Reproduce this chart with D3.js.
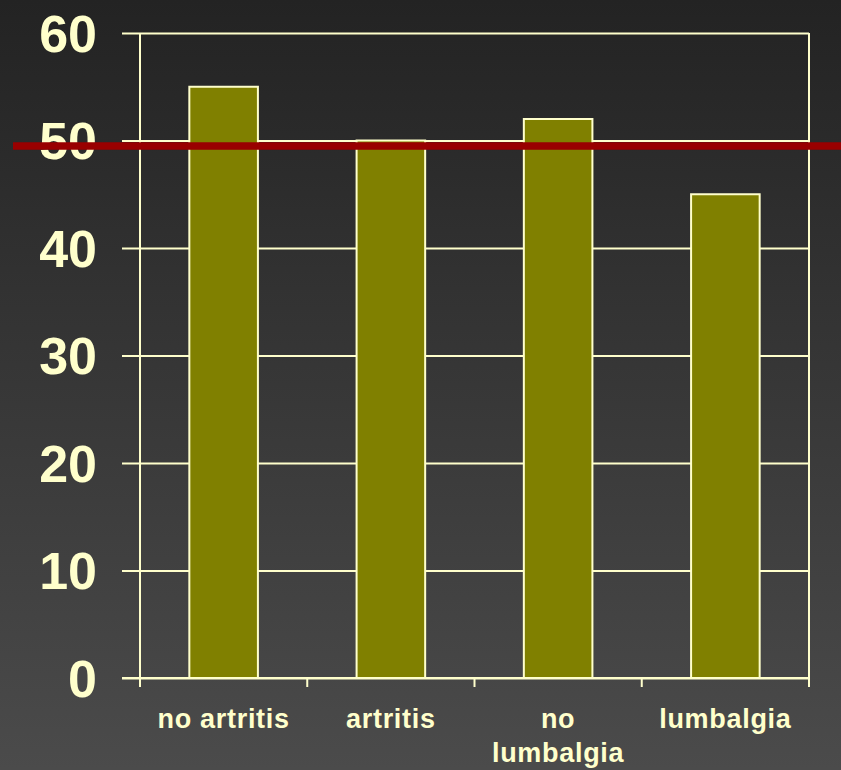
<!DOCTYPE html>
<html>
<head>
<meta charset="utf-8">
<script src="https://cdn.jsdelivr.net/npm/d3@7/dist/d3.min.js"></script>
<style>
  html, body { margin: 0; padding: 0; background: #2a2a2a; }
  svg { display: block; }
</style>
</head>
<body>
<svg id="chart" width="841" height="770"></svg>
<script>
// Share of patients per group (%)
const categories = ["no artritis", "artritis", "no lumbalgia", "lumbalgia"];
const values = [55, 50, 52, 45];
const yTicks = [0, 10, 20, 30, 40, 50, 60];
const referenceValue = 49.5;

const W = 841, H = 770;
const margin = { left: 140, right: 32, top: 33, bottom: 92 };
const ink = "#ffffcc";

const svg = d3.select("#chart");

// Background: vertical dark-to-grey gradient
const defs = svg.append("defs");
const grad = defs.append("linearGradient")
  .attr("id", "bg").attr("x1", 0).attr("y1", 0).attr("x2", 0).attr("y2", 1);
grad.append("stop").attr("offset", "0%").attr("stop-color", "#232323");
grad.append("stop").attr("offset", "100%").attr("stop-color", "#4b4b4b");
svg.append("rect").attr("width", W).attr("height", H).attr("fill", "url(#bg)");

const x = d3.scaleBand()
  .domain(categories)
  .range([margin.left, W - margin.right])
  .paddingInner(0.59)
  .paddingOuter(0.295);

const y = d3.scaleLinear()
  .domain([0, 60])
  .range([H - margin.bottom, margin.top]);

// Horizontal gridlines with left tick marks
const yAxis = d3.axisLeft(y)
  .tickValues(yTicks)
  .tickSize(-(W - margin.right - margin.left))
  .tickPadding(43)
  .tickFormat(d3.format("d"));

const gy = svg.append("g")
  .attr("transform", `translate(${margin.left},0)`)
  .call(yAxis);
gy.select(".domain").remove();
gy.selectAll(".tick line")
  .attr("x1", -18)
  .attr("stroke", ink)
  .attr("stroke-width", 2);
gy.selectAll(".tick text")
  .attr("fill", ink)
  .attr("font-family", "'Liberation Sans', Arial, sans-serif")
  .attr("font-weight", "bold")
  .attr("font-size", 52)
  .attr("dy", "0.35em");

// Plot frame: left and right verticals
svg.append("line")
  .attr("x1", margin.left).attr("x2", margin.left)
  .attr("y1", y(60)).attr("y2", y(0))
  .attr("stroke", ink).attr("stroke-width", 2);
svg.append("line")
  .attr("x1", W - margin.right).attr("x2", W - margin.right)
  .attr("y1", y(60)).attr("y2", y(0))
  .attr("stroke", ink).attr("stroke-width", 2);

// Bars
svg.append("g").selectAll("rect")
  .data(values)
  .join("rect")
  .attr("x", (d, i) => x(categories[i]))
  .attr("y", d => y(d))
  .attr("width", x.bandwidth())
  .attr("height", d => y(0) - y(d))
  .attr("fill", "#808000")
  .attr("stroke", ink)
  .attr("stroke-width", 2);

// Category axis with boundary ticks
const tickPositions = d3.range(categories.length + 1)
  .map(i => margin.left + i * (W - margin.left - margin.right) / categories.length);
const gx = svg.append("g");
gx.append("line")
  .attr("x1", margin.left - 18).attr("x2", W - margin.right)
  .attr("y1", y(0)).attr("y2", y(0))
  .attr("stroke", ink).attr("stroke-width", 2);
gx.selectAll("line.tk")
  .data(tickPositions)
  .join("line")
  .attr("class", "tk")
  .attr("x1", d => d).attr("x2", d => d)
  .attr("y1", y(0)).attr("y2", y(0) + 9)
  .attr("stroke", ink).attr("stroke-width", 2);

// Category labels, wrapping "no lumbalgia" onto two lines
const labelLines = { "no lumbalgia": ["no", "lumbalgia"] };
const labels = gx.selectAll("text.cat")
  .data(categories)
  .join("text")
  .attr("class", "cat")
  .attr("x", d => x(d) + x.bandwidth() / 2)
  .attr("y", y(0) + 50)
  .attr("text-anchor", "middle")
  .attr("fill", ink)
  .attr("font-family", "'Liberation Sans', Arial, sans-serif")
  .attr("font-weight", "bold")
  .attr("font-size", 27)
  .attr("letter-spacing", 0.7);
labels.each(function (d) {
  const lines = labelLines[d] || [d];
  const t = d3.select(this);
  lines.forEach((ln, i) => {
    t.append("tspan")
      .attr("x", x(d) + x.bandwidth() / 2)
      .attr("dy", i === 0 ? 0 : 34)
      .text(ln);
  });
});

// Reference line across the whole width
svg.append("line")
  .attr("x1", 13).attr("x2", W)
  .attr("y1", y(referenceValue)).attr("y2", y(referenceValue))
  .attr("stroke", "#990000")
  .attr("stroke-width", 7.5);
</script>
</body>
</html>
